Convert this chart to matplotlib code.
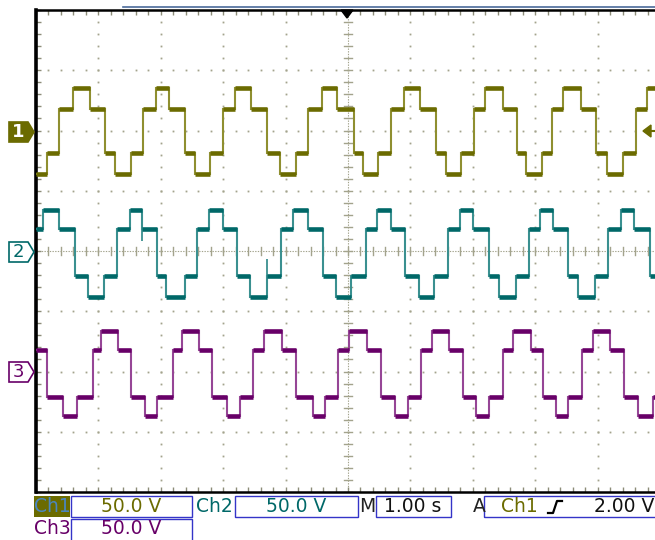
import matplotlib
matplotlib.use('Agg')
import matplotlib.pyplot as plt
import numpy as np
from matplotlib.patches import Polygon, Rectangle

# ---------------- data (times in s, levels in V) ----------------
ch1_times = [0.171, 0.373, 0.588, 0.865, 1.106, 1.266, 1.518, 1.710, 1.923, 2.136,
             2.393, 2.553, 2.788, 2.992, 3.189, 3.441, 3.707, 3.910, 4.167, 4.354,
             4.583, 4.829, 5.096, 5.245, 5.476, 5.689, 5.897, 6.154, 6.410, 6.571,
             6.806, 7.024, 7.200, 7.489, 7.704, 7.853, 8.104, 8.264, 8.450, 8.729,
             8.974, 9.146, 9.402, 9.615, 9.796]
ch1_levels = [-36, -19, 18, 35, 18, -19, -36, -19, 18, 35, 18, -19,
              -36, -19, 18, 35, 18, -19, -36, -19, 18, 35, 18, -19,
              -36, -19, 18, 35, 18, -19, -36, -19, 18, 35, 18, -19,
              -36, -19, 18, 35, 18, -19, -36, -19, 18, 35]

ch2_times = [0.117, 0.373, 0.625, 0.838, 1.090, 1.303, 1.506, 1.694, 1.944, 2.083,
             2.388, 2.575, 2.777, 2.992, 3.226, 3.429, 3.697, 3.921, 4.123, 4.364,
             4.604, 4.808, 5.048, 5.288, 5.460, 5.684, 5.913, 6.143, 6.383, 6.598,
             6.795, 7.008, 7.260, 7.425, 7.692, 7.905, 8.077, 8.280, 8.530, 8.691,
             8.958, 9.162, 9.370, 9.583, 9.840]
ch2_levels = [18, 34, 18, -21, -38, -21, 18, 34, 18, -21, -38, -21,
              18, 34, 18, -21, -38, -21, 18, 34, 18, -21, -38, -21,
              18, 34, 18, -21, -38, -21, 18, 34, 18, -21, -38, -21,
              18, 34, 18, -21, -38, -21, 18, 34, 18, -21]
# short glitches seen on channel 2: time, from level, to level (V)
ch2_glitch_t = [1.700, 3.700]
ch2_glitch_from = [18, -38]
ch2_glitch_to = [8, -7]

ch3_times = [0.171, 0.428, 0.652, 0.909, 1.037, 1.319, 1.518, 1.747, 1.944, 2.191,
             2.335, 2.617, 2.816, 3.056, 3.269, 3.473, 3.654, 3.938, 4.167, 4.434,
             4.631, 4.845, 5.021, 5.309, 5.524, 5.753, 5.966, 6.165, 6.351, 6.623,
             6.838, 7.051, 7.264, 7.489, 7.649, 7.928, 8.130, 8.333, 8.530, 8.745,
             8.921, 9.199, 9.428, 9.643, 9.883]
ch3_levels = [18, -21, -37, -21, 18, 34, 18, -21, -37, -21, 18, 34,
              18, -21, -37, -21, 18, 34, 18, -21, -37, -21, 18, 34,
              18, -21, -37, -21, 18, 34, 18, -21, -37, -21, 18, 34,
              18, -21, -37, -21, 18, 34, 18, -21, -37, -21]

channel_offsets = [2, 0, -2]          # ground marker positions (div)
volts_per_div = 50.0
status_row1 = ["Ch1", "50.0 V", "Ch2", "50.0 V", "M", "1.00 s", "A", "Ch1", "2.00 V"]
status_row2 = ["Ch3", "50.0 V"]

# ---------------- figure ----------------
W, H = 655, 540
fig = plt.figure(figsize=(W / 100, H / 100), dpi=100)
fig.patch.set_facecolor('white')

def fx(px):
    return px / W

def fy(py):
    return 1 - py / H

L, T, R, B = 36, 10, 660, 492
ax = fig.add_axes([fx(L), fy(B), (R - L) / W, (B - T) / H])
ax.set_xlim(0, 10)
ax.set_ylim(-4, 4)
ax.set_facecolor('white')

gcol = '#a3a38c'
# dotted major graticule
for k in range(1, 10):
    if k == 5:
        continue
    yy = np.arange(-4, 4.001, 0.2)
    ax.plot(np.full_like(yy, k), yy, ls='none', marker='s', ms=1.3, mfc=gcol, mec='none', zorder=1)
for j in range(-3, 4):
    if j == 0:
        continue
    xx = np.arange(0, 10.001, 0.2)
    ax.plot(xx, np.full_like(xx, j), ls='none', marker='s', ms=1.3, mfc=gcol, mec='none', zorder=1)

# centre lines with minor ticks
ax.plot([0, 10], [0, 0], color=gcol, lw=0.8, ls=(0, (1.2, 1.2)), zorder=1)
ax.plot([5, 5], [-4, 4], color=gcol, lw=0.8, ls=(0, (1.2, 1.2)), zorder=1)
for xv in np.arange(0, 10.001, 0.2):
    ax.plot([xv, xv], [-0.06, 0.06], color=gcol, lw=1.0, zorder=1)
for yv in np.arange(-4, 4.001, 0.2):
    ax.plot([4.94, 5.06], [yv, yv], color=gcol, lw=1.0, zorder=1)

# border ticks
ax.set_xticks(np.arange(0, 10.001, 0.2))
ax.set_yticks(np.arange(-4, 4.001, 0.2))
ax.tick_params(direction='in', length=3.5, width=1.0, color='#8c8c78',
               top=True, bottom=True, left=True, right=False,
               labelbottom=False, labelleft=False)
ax.spines['left'].set_linewidth(2.6)
for s in ['top', 'bottom']:
    ax.spines[s].set_linewidth(1.8)
for s in ['left', 'top', 'bottom']:
    ax.spines[s].set_color('black')
ax.spines['right'].set_visible(False)

# traces
colors = [('#6b6b00', '#8f8f30'), ('#006868', '#3a9090'), ('#680068', '#964696')]
for times, levels, off, (cd, cl) in zip([ch1_times, ch2_times, ch3_times],
                                       [ch1_levels, ch2_levels, ch3_levels],
                                       channel_offsets, colors):
    edges = [0.0] + times + [10.5]
    yv = [off + v / volts_per_div for v in levels]
    ax.stairs(yv, edges, baseline=None, color=cl, lw=1.5, zorder=3)
    ax.hlines(yv, edges[:-1], edges[1:], color=cd, lw=3.3, zorder=4)

# channel 2 glitches
ax.vlines(ch2_glitch_t,
          [channel_offsets[1] + v / volts_per_div for v in ch2_glitch_from],
          [channel_offsets[1] + v / volts_per_div for v in ch2_glitch_to],
          color=colors[1][1], lw=1.3, zorder=3)

# trigger position marker (top)
fig.add_artist(Polygon([(fx(341), fy(10)), (fx(353), fy(10)), (fx(347), fy(18))],
                       closed=True, fc='black', ec='black', transform=fig.transFigure))
# blue record bar on top
fig.add_artist(plt.Line2D([fx(123), fx(655)], [fy(7), fy(7)], color='#4a6a9a', lw=1.2,
                          transform=fig.transFigure))
# trigger level arrow at right
fig.add_artist(Polygon([(fx(643), fy(131)), (fx(651), fy(125)), (fx(651), fy(137))],
                       closed=True, fc='#6b6b00', ec='#6b6b00', transform=fig.transFigure))
fig.add_artist(plt.Line2D([fx(649), fx(655)], [fy(131), fy(131)], color='#6b6b00', lw=1.5,
                          transform=fig.transFigure))

# channel ground markers
def marker(yc, label, col, filled):
    pts = [(fx(9), fy(yc - 10)), (fx(28), fy(yc - 10)), (fx(34), fy(yc)),
           (fx(28), fy(yc + 10)), (fx(9), fy(yc + 10))]
    fig.add_artist(Polygon(pts, closed=True, fc=col if filled else 'white', ec=col, lw=1.2,
                           transform=fig.transFigure))
    fig.text(fx(18), fy(yc), label, color='white' if filled else col,
             fontsize=13, fontweight='bold' if filled else 'normal',
             ha='center', va='center', family='DejaVu Sans')

marker(132, "1", '#6b6b00', True)
marker(252, "2", '#006868', False)
marker(372, "3", '#680068', False)

# status bar
fs = 13.5
blue = '#3434c8'
def box(x0, x1, y0, y1):
    fig.add_artist(Rectangle((fx(x0), fy(y1)), fx(x1) - fx(x0), fy(y0) - fy(y1),
                             fc='none', ec=blue, lw=1.0, transform=fig.transFigure))

fig.add_artist(Rectangle((fx(34), fy(517)), fx(70) - fx(34), fy(496) - fy(517),
                         fc='#6b6b00', ec='none', transform=fig.transFigure))
fig.text(fx(52), fy(507), status_row1[0], color='#4a86c0', fontsize=fs, ha='center', va='center')
box(71, 192, 496, 517)
fig.text(fx(131), fy(507), status_row1[1], color='#6b6b00', fontsize=fs, ha='center', va='center')
fig.text(fx(214), fy(507), status_row1[2], color='#006868', fontsize=fs, ha='center', va='center')
box(235, 358, 496, 517)
fig.text(fx(296), fy(507), status_row1[3], color='#006868', fontsize=fs, ha='center', va='center')
fig.text(fx(367), fy(507), status_row1[4], color='#222222', fontsize=fs, ha='center', va='center')
box(376, 451, 496, 517)
fig.text(fx(413), fy(507), status_row1[5], color='#111111', fontsize=fs, ha='center', va='center')
fig.text(fx(479), fy(507), status_row1[6], color='#222222', fontsize=fs, ha='center', va='center')
box(484, 670, 496, 517)
fig.text(fx(519), fy(507), status_row1[7], color='#6b6b00', fontsize=fs, ha='center', va='center')
# rising-edge symbol
fig.add_artist(plt.Line2D([fx(548), fx(553), fx(557), fx(562)],
                          [fy(513), fy(513), fy(501), fy(501)], color='black', lw=1.6,
                          transform=fig.transFigure))
fig.text(fx(624), fy(507), status_row1[8], color='#111111', fontsize=fs, ha='center', va='center')

fig.text(fx(52), fy(529), status_row2[0], color='#680068', fontsize=fs, ha='center', va='center')
box(71, 192, 519, 541)
fig.text(fx(131), fy(529), status_row2[1], color='#680068', fontsize=fs, ha='center', va='center')

fig.savefig('out.png', dpi=100, facecolor='white')
